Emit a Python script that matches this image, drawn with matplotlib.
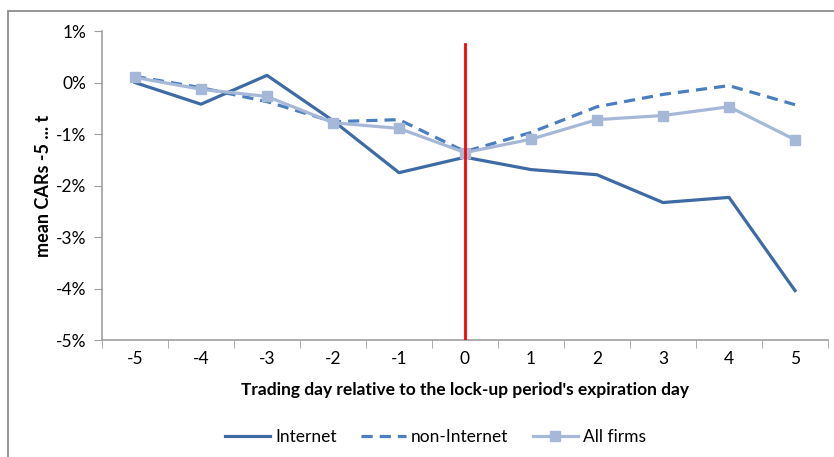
import matplotlib

matplotlib.use('Agg')
import matplotlib.pyplot as plt
from matplotlib.patches import Rectangle

plt.rcParams['font.family'] = ['Lato', 'DejaVu Sans']

# mean cumulative abnormal returns (%) around lock-up expiration
days = [-5, -4, -3, -2, -1, 0, 1, 2, 3, 4, 5]
internet = [0.00, -0.42, 0.14, -0.74, -1.75, -1.45, -1.69, -1.79, -2.33, -2.23, -4.04]
non_internet = [0.12, -0.10, -0.37, -0.76, -0.72, -1.34, -0.97, -0.47, -0.23, -0.06, -0.43]
all_firms = [0.10, -0.13, -0.27, -0.78, -0.89, -1.36, -1.10, -0.72, -0.64, -0.47, -1.11]
y_ticks = [1, 0, -1, -2, -3, -4, -5]
event_day = 0
event_span = (-5.0, 0.75)

fig = plt.figure(figsize=(8.34, 4.57), dpi=100)
ax = fig.add_axes([0.1223, 0.256, 0.8705, 0.676])

pos = list(range(len(days)))
ax.plot(pos, internet, color='#3E6BA4', lw=2.3, label='Internet', zorder=3)
ax.plot(pos, non_internet, color='#4A7EBF', lw=2.3, ls=(0, (3.5, 2.2)), label='non-Internet', zorder=3)
ax.plot(pos, all_firms, color='#A6B8D8', lw=2.3, marker='s', ms=7, label='All firms', zorder=3)

ev = days.index(event_day)
ax.plot([ev, ev], event_span, color='#FF0000', lw=2, zorder=4)

ax.set_xlim(-0.5, len(days) - 0.5)
ax.set_ylim(-5, 1)
ax.set_yticks(y_ticks)
ax.set_yticklabels([f'{v}%' for v in y_ticks])
ax.set_xticks(pos)
ax.set_xticklabels([str(d) for d in days])
ax.set_xticks([p - 0.5 for p in pos] + [pos[-1] + 0.5], minor=True)
ax.tick_params(axis='x', which='major', length=0, pad=8, labelsize=12.5, colors='black')
ax.tick_params(axis='x', which='minor', length=6, color='#A0A0A0', direction='out')
ax.tick_params(axis='y', length=6, color='#A0A0A0', direction='out', labelsize=12.5, pad=5)

for s in ['top', 'right']:
    ax.spines[s].set_visible(False)
for s in ['left', 'bottom']:
    ax.spines[s].set_color('#A0A0A0')
    ax.spines[s].set_linewidth(1.2)

ax.set_xlabel("Trading day relative to the lock-up period's expiration day",
              fontsize=12.5, fontweight='bold', labelpad=11)
ax.set_ylabel('mean CARs -5 ... t', fontsize=13, fontweight='bold', labelpad=3)

ax.legend(loc='center', bbox_to_anchor=(0.522, 0.044), bbox_transform=fig.transFigure,
          ncol=3, frameon=False, fontsize=12.5, handlelength=2.6, columnspacing=1.4,
          handletextpad=0.3)

# chart frame (left and top edges visible)
fig.patches.append(Rectangle((8 / 834, -0.1), 1.2, 1 - 11 / 457 + 0.1, transform=fig.transFigure,
                             fill=False, edgecolor='#8C8C8C', lw=1.3))

fig.savefig('out.png', dpi=100)
